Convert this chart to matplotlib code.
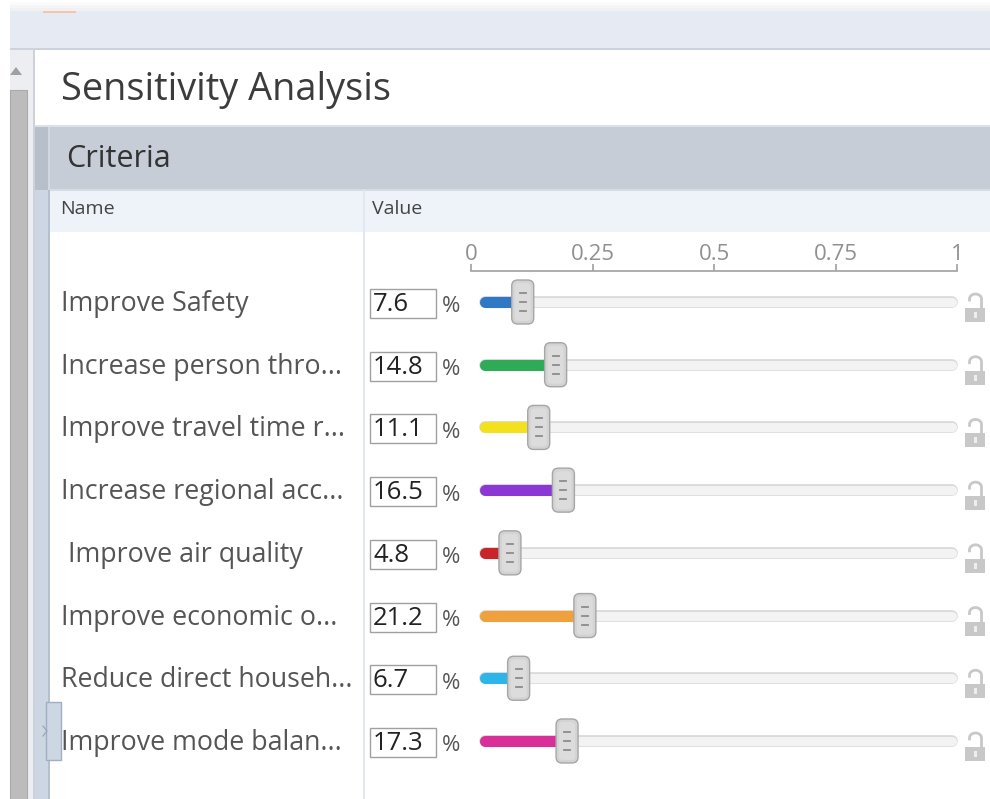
import numpy as np
import matplotlib
matplotlib.use("Agg")
import matplotlib.pyplot as plt
from matplotlib.patches import Rectangle, FancyBboxPatch, Polygon
from matplotlib.transforms import blended_transform_factory

plt.rcParams['font.family'] = ['Open Sans', 'DejaVu Sans']

# ---------------- data ----------------
criteria = ["Improve Safety", "Increase person thro...", "Improve travel time r...",
            "Increase regional acc...", " Improve air quality", "Improve economic o...",
            "Reduce direct househ...", "Improve mode balan..."]
weights_pct = [7.6, 14.8, 11.1, 16.5, 4.8, 21.2, 6.7, 17.3]
colors = ["#2f78c6", "#2fab57", "#f3e01e", "#8a37d4", "#c8242a", "#f1a03e", "#2db5ea", "#d82f98"]
scale_ticks = [0, 0.25, 0.5, 0.75, 1]
scale_labels = ["0", "0.25", "0.5", "0.75", "1"]
title = "Sensitivity Analysis"
section = "Criteria"
col_headers = ["Name", "Value"]

W, H = 990, 799
fig = plt.figure(figsize=(W / 100, H / 100), dpi=100)
fig.patch.set_facecolor("white")

# background axes in pixel coordinates (UI chrome)
bg = fig.add_axes([0, 0, 1, 1])
bg.set_xlim(0, W)
bg.set_ylim(H, 0)
bg.axis("off")

def rect(x0, y0, x1, y1, fc, ec="none", lw=0, z=1):
    bg.add_patch(Rectangle((x0, y0), x1 - x0, y1 - y0, facecolor=fc, edgecolor=ec, linewidth=lw, zorder=z))

# top shadow and band
for k, c in enumerate(["#fbfbfb", "#f6f6f6", "#f1f1f1"]):
    rect(10, 2 + 3 * k, W, 5 + 3 * k, c)
rect(10, 11, W, 48, "#e6eaf2")
rect(10, 48, W, 50, "#cdd2dc")
rect(43, 11, 76, 13, "#f2c6ae")
# left scroll panel
rect(10, 50, 33, H, "#eceef2")
rect(33, 50, 35, H, "#cdd2da")
bg.add_patch(Polygon([[10, 75], [16, 67], [22, 75]], closed=True, facecolor="#a0a0a0", edgecolor="none", zorder=2))
rect(10, 90, 27, H + 2, "#bcbcbc", ec="#aaaaaa", lw=0.8, z=2)
# main panel
rect(35, 50, W, 127, "white")
bg.text(61, 90, title, fontsize=27.3, color="#3c3c3c", va="center", ha="left", zorder=5)
rect(35, 125, W, 127, "#dde1e7")
rect(35, 127, W, 190, "#c6cdd7")
rect(35, 127, 48, 190, "#b7bfcb", z=2)
rect(48, 127, 50, 190, "#d2d8e1", z=2)
bg.text(66, 159, section, fontsize=22, color="#333333", va="center", ha="left", zorder=5)
# left strip below header
rect(35, 190, 48, H, "#cdd6e3", z=2)
rect(48, 190, 50, H, "#b4c0d0", z=2)
# tab with chevron
bg.add_patch(Rectangle((46, 702), 15, 58, facecolor="#cdd6e3", edgecolor="#9fb0c5", linewidth=1, zorder=3))
bg.plot([43, 47, 43], [726, 731, 736], color="#9aa6b6", lw=0.9, zorder=4)
# column header row
rect(50, 190, W, 232, "#eef2f9")
rect(50, 189, W, 191, "#d6dbe4")
bg.text(60, 209, col_headers[0], fontsize=14, color="#444444", va="center", ha="left", zorder=5)
bg.text(372, 209, col_headers[1], fontsize=14, color="#444444", va="center", ha="left", zorder=5)
rect(363, 190, 365, H, "#e1e6ef", z=3)

# ---------------- scale axis ----------------
sc = fig.add_axes([471 / W, 1 - 271 / H, (957 - 471) / W, 0.0001])
sc.set_xlim(0, 1)
sc.set_ylim(0, 1)
sc.patch.set_alpha(0)
for s in ["top", "left", "right"]:
    sc.spines[s].set_visible(False)
sc.spines["bottom"].set_color("#a0a0a0")
sc.spines["bottom"].set_linewidth(1.2)
sc.set_yticks([])
sc.set_xticks(scale_ticks)
sc.set_xticklabels(scale_labels)
sc.tick_params(axis="x", bottom=True, top=False, labelbottom=False, labeltop=True,
               direction="in", length=5, width=1.2, color="#a0a0a0", pad=4.5,
               labelsize=16, labelcolor="#909090")

# ---------------- slider axes ----------------
# value v -> pixel x = 488 + 457 v ; row i -> pixel y = 302 + 62.71 i
X0, XS = 488.0, 457.0
Y0, YS = 302.0, 62.71
ax = fig.add_axes([0, 0, 1, 1])
ax.patch.set_alpha(0)
ax.axis("off")
ax.set_xlim(-X0 / XS, (W - X0) / XS)
ax.set_ylim((H - Y0) / YS, -Y0 / YS)
blend = blended_transform_factory(bg.transData, ax.transData)

rows = np.arange(len(criteria))
vals = np.array(weights_pct) / 100.0
track_lo, track_hi = -0.007, 1.015
py = 1.0 / YS  # one pixel in row units

for i, (lab, v, pct, c) in enumerate(zip(criteria, vals, weights_pct, colors)):
    # label
    ax.text(61, i + 2 * py, lab, transform=blend, fontsize=19.3, color="#555555", va="center", ha="left", zorder=5)
    # value box
    ax.add_patch(Rectangle((370, i - 13 * py), 66, 29 * py, transform=blend, facecolor="white",
                           edgecolor="#a0a0a0", linewidth=1, zorder=4))
    ax.text(373, i + 2.5 * py, f"{pct:.1f}", transform=blend, fontsize=18.5, color="#222222",
            va="center", ha="left", zorder=5)
    ax.text(442, i + 5 * py, "%", transform=blend, fontsize=16, color="#555555", va="center", ha="left", zorder=5)
    # track
    ax.plot([track_lo, track_hi], [i, i], color="#d8d8d8", lw=8.4, solid_capstyle="round", zorder=2)
    ax.plot([track_lo, track_hi], [i, i], color="#f3f3f3", lw=6.6, solid_capstyle="round", zorder=2)
    # fill
    ax.plot([track_lo, v], [i, i], color=c, lw=8.0, solid_capstyle="round", zorder=3)
    # thumb
    tw, th = 22 / XS, 44 * py
    ax.add_patch(FancyBboxPatch((v - tw / 2, i - th / 2), tw, th,
                                boxstyle=f"round,pad=0,rounding_size={6 / XS}",
                                mutation_aspect=XS / YS, facecolor="#d3d3d3", edgecolor="#a6a6a6",
                                linewidth=1.0, zorder=6))
    ax.add_patch(FancyBboxPatch((v - tw / 2 + 3 / XS, i - th / 2 + 3 * py), tw - 6 / XS, th - 6 * py,
                                boxstyle=f"round,pad=0,rounding_size={4 / XS}",
                                mutation_aspect=XS / YS, facecolor="#dcdcdc", edgecolor="none",
                                zorder=6))
    for dy in (-9, 0, 9):
        ax.plot([v - 3 / XS, v + 3 / XS], [i + dy * py, i + dy * py], color="#8c8c8c", lw=1.3, zorder=7)
    # lock icon
    ax.add_patch(Rectangle((965, i + 6 * py), 20, 14 * py, transform=blend, facecolor="#c8c8c8",
                           edgecolor="none", zorder=4))
    ax.add_patch(Rectangle((973.5, i + 10 * py), 3, 6 * py, transform=blend, facecolor="#eeeeee",
                           edgecolor="none", zorder=5))
    t = np.linspace(np.pi, 0, 20)
    sx = np.concatenate([[969.5], 975.5 + 6 * np.cos(t), [981.5, 981.5]])
    sy = np.concatenate([[-2], -3 - 5 * np.sin(t), [-3, 6]])
    ax.plot(sx, i + sy * py, transform=blend, color="#c8c8c8", lw=2.0, zorder=4)

fig.savefig("out.png", dpi=100, facecolor="white")
